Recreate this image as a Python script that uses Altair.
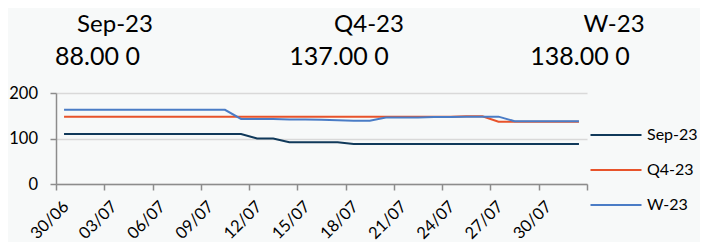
import altair as alt
import pandas as pd

# ---- data ----
series_names = ["Sep-23", "Q4-23", "W-23"]
series_colors = ["#10395A", "#E8532B", "#4A7CC6"]

start_date = "2023-06-30"
n_days = 33  # 30/06 .. 01/08

sep_23 = [110, 110, 110, 110, 110, 110, 110, 110, 110, 110, 110, 110,
          100, 100, 92, 92, 92, 92,
          88, 88, 88, 88, 88, 88, 88, 88, 88, 88, 88, 88, 88, 88, 88]
q4_23 = [148, 148, 148, 148, 148, 148, 148, 148, 148, 148, 148, 148, 148,
         148, 148, 148, 148, 148, 148, 148, 148, 148, 148, 148, 148,
         149, 149,
         137, 137, 137, 137, 137, 137]
w_23 = [163, 163, 163, 163, 163, 163, 163, 163, 163, 163, 163,
        143, 143, 143, 142, 142, 141, 140, 139, 139,
        146, 146, 146, 147, 147, 148, 148, 148,
        138, 138, 138, 138, 138]

header_suffix = " 0"
y_ticks = [0, 100, 200]

# ---- build tables ----
dates = pd.date_range(start_date, periods=n_days) + pd.Timedelta(hours=12)
rows = []
for name, vals in zip(series_names, [sep_23, q4_23, w_23]):
    for d, v in zip(dates, vals):
        rows.append({"date": d.strftime("%Y-%m-%dT%H:%M:%S"), "series": name, "value": v})
df = pd.DataFrame(rows)

hdr = pd.DataFrame({
    "series": series_names,
    "latest": [f"{v[-1]:.2f}{header_suffix}" for v in [sep_23, q4_23, w_23]],
})

font = "Lato"
grey = "#8C8C8C"

x_ticks = [alt.DateTime(year=2023, month=6, date=30)]
for m, d in [(7, 3), (7, 6), (7, 9), (7, 12), (7, 15), (7, 18), (7, 21), (7, 24), (7, 27), (7, 30), (8, 2)]:
    x_ticks.append(alt.DateTime(year=2023, month=m, date=d))

lines = alt.Chart(df).mark_line(strokeWidth=2).encode(
    x=alt.X(
        "date:T",
        title=None,
        scale=alt.Scale(domain=[alt.DateTime(year=2023, month=6, date=30),
                                alt.DateTime(year=2023, month=8, date=2)]),
        axis=alt.Axis(
            values=x_ticks,
            format="%d/%m",
            labelExpr="datum.value > datetime(2023, 6, 31) ? '' : datum.label",
            labelAngle=-45, labelAlign="right", labelBaseline="top",
            labelOffset=4, labelPadding=8,
            labelFont=font, labelFontSize=16.5, labelColor="#000000",
            tickSize=6, tickColor=grey, tickWidth=1.5,
            domainColor=grey, domainWidth=1.5,
            grid=False, labelOverlap=False,
        ),
    ),
    y=alt.Y(
        "value:Q",
        title=None,
        scale=alt.Scale(domain=[0, 200], nice=False),
        axis=alt.Axis(
            values=y_ticks,
            labelFont=font, labelFontSize=16.5, labelColor="#000000",
            labelPadding=12.5,
            tickSize=6, tickColor=grey, tickWidth=1.5,
            domainColor=grey, domainWidth=1.5,
            grid=True, gridColor="#D9D9D9", gridWidth=1.5,
        ),
    ),
    color=alt.Color(
        "series:N",
        scale=alt.Scale(domain=series_names, range=series_colors),
        legend=alt.Legend(
            title=None, orient="none", legendX=549, legendY=31,
            symbolType="M-2.55,0H2.55", symbolSize=400, symbolStrokeWidth=2,
            symbolFillColor="transparent",
            labelFont=font, labelFontSize=16, labelColor="#000000",
            labelOffset=20, rowPadding=16, padding=0,
        ),
    ),
)

layers = [lines]
title_x = [59, 313, 558]
value_x = [41.5, 283, 524]
for name, tx, vx in zip(series_names, title_x, value_x):
    base = alt.Chart(hdr).transform_filter(alt.datum.series == name)
    layers.append(base.mark_text(font=font, fontSize=24, color="#000000", align="center",
                                 baseline="alphabetic").encode(
        text="series:N", x=alt.value(tx), y=alt.value(-61)))
    layers.append(base.mark_text(font=font, fontSize=25, color="#000000", align="center",
                                 baseline="alphabetic").encode(
        text="latest:N", x=alt.value(vx), y=alt.value(-28)))

chart = alt.layer(*layers).properties(
    width=531, height=91,
    autosize=alt.AutoSizeParams(type="none"),
    padding={"left": 48, "top": 85, "right": 113, "bottom": 58},
    background="#F7F9F9",
).configure_view(stroke=None)

chart.save("out.html", embed_options={"renderer": "svg", "actions": False})
